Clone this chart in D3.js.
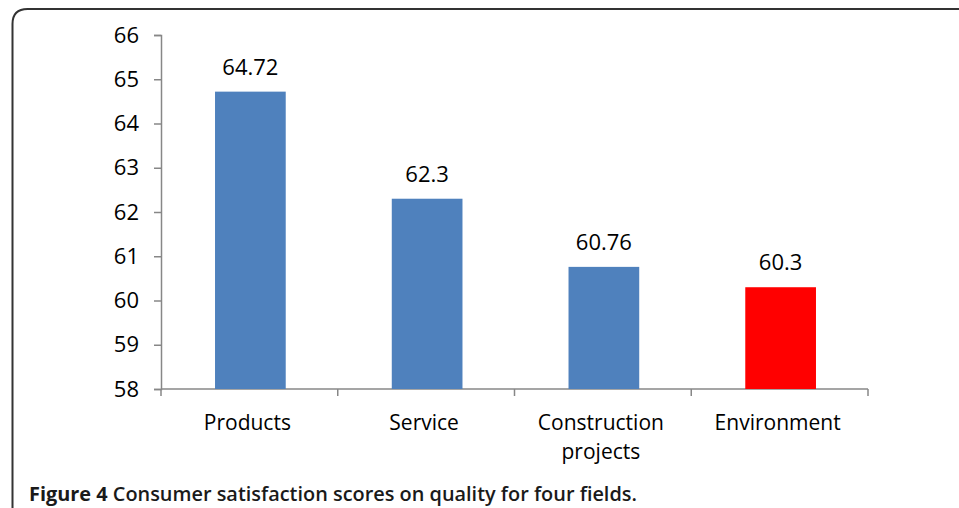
<!DOCTYPE html>
<html lang="en">
<head>
    <meta charset="UTF-8">
    <title>Figure 4</title>
    <script src="https://cdnjs.cloudflare.com/ajax/libs/d3/7.8.5/d3.min.js"></script>
    <style>
        body {
            margin: 0;
            background-color: white;
        }

        svg text {
            font-family: "Open Sans", "Noto Sans", sans-serif;
            fill: #000;
        }

        .axis path, .axis line {
            stroke: #878787;
            stroke-width: 1.5px;
        }

        .caption {
            font-size: 19.9px;
            font-weight: 600;
        }

        .caption, .caption tspan {
            fill: #1a1a1a;
        }
    </style>
</head>
<body>
<div id="chart"></div>
<script>
    const categories = ['Products', 'Service', 'Construction projects', 'Environment'];
    const scores = [64.72, 62.3, 60.76, 60.3];
    const barColors = ['#4f81bd', '#4f81bd', '#4f81bd', '#ff0000'];
    const yTicks = [58, 59, 60, 61, 62, 63, 64, 65, 66];

    const width = 959;
    const height = 508;

    const svg = d3.select('#chart')
        .append('svg')
        .attr('width', width)
        .attr('height', height);

    // frame with rounded top-left corner, runs off the right and bottom edge
    svg.append('path')
        .attr('d', 'M12.5,520 L12.5,24 Q12.5,9 27.5,9 L970,9')
        .attr('fill', 'none')
        .attr('stroke', '#333')
        .attr('stroke-width', 2);

    const x = d3.scaleBand().domain(categories).range([161, 868]).padding(0);
    const y = d3.scaleLinear().domain([58, 66]).range([389, 35]);

    const yAxis = svg.append('g')
        .attr('class', 'axis')
        .attr('transform', 'translate(161,0)')
        .call(d3.axisLeft(y).tickValues(yTicks).tickSize(7).tickPadding(15).tickFormat(d3.format('d')));
    yAxis.selectAll('text').style('font-size', '22px');

    // x axis with ticks at band boundaries
    const xAxis = svg.append('g').attr('class', 'axis');
    xAxis.append('line')
        .attr('x1', x.range()[0]).attr('x2', x.range()[1])
        .attr('y1', y(58)).attr('y2', y(58));
    xAxis.selectAll('line.tick')
        .data(categories.concat(['end']))
        .join('line')
        .attr('class', 'tick')
        .attr('x1', (d, i) => x.range()[0] + i * x.step())
        .attr('x2', (d, i) => x.range()[0] + i * x.step())
        .attr('y1', y(58)).attr('y2', y(58) + 7);

    const barWidth = x.bandwidth() * 0.4;

    svg.selectAll('rect.bar')
        .data(scores)
        .join('rect')
        .attr('class', 'bar')
        .attr('x', (d, i) => x(categories[i]) + x.bandwidth() / 2 - barWidth / 2 + 1)
        .attr('y', d => y(d))
        .attr('width', barWidth)
        .attr('height', d => y(58) - y(d))
        .attr('fill', (d, i) => barColors[i]);

    svg.selectAll('text.value')
        .data(scores)
        .join('text')
        .attr('class', 'value')
        .attr('x', (d, i) => x(categories[i]) + x.bandwidth() / 2 + 1)
        .attr('y', d => y(d) - 17)
        .attr('text-anchor', 'middle')
        .style('font-size', '22px')
        .text(d => d);

    // category labels, the long one goes on two lines
    const labels = svg.selectAll('text.cat')
        .data(categories)
        .join('text')
        .attr('class', 'cat')
        .attr('text-anchor', 'middle')
        .style('font-size', '21px')
        .attr('x', d => x(d) + x.bandwidth() / 2 - 2)
        .attr('y', 430);
    labels.each(function (d) {
        const lines = d === 'Construction projects' ? ['Construction', 'projects'] : [d];
        d3.select(this).selectAll('tspan')
            .data(lines)
            .join('tspan')
            .attr('x', x(d) + x.bandwidth() / 2 - 2)
            .attr('dy', (l, i) => i === 0 ? 0 : 29)
            .text(l => l);
    });

    const caption = svg.append('text')
        .attr('class', 'caption')
        .attr('x', 29)
        .attr('y', 501);
    caption.append('tspan').style('font-weight', 700).text('Figure 4');
    caption.append('tspan').text(' Consumer satisfaction scores on quality for four fields.');
</script>
</body>
</html>
